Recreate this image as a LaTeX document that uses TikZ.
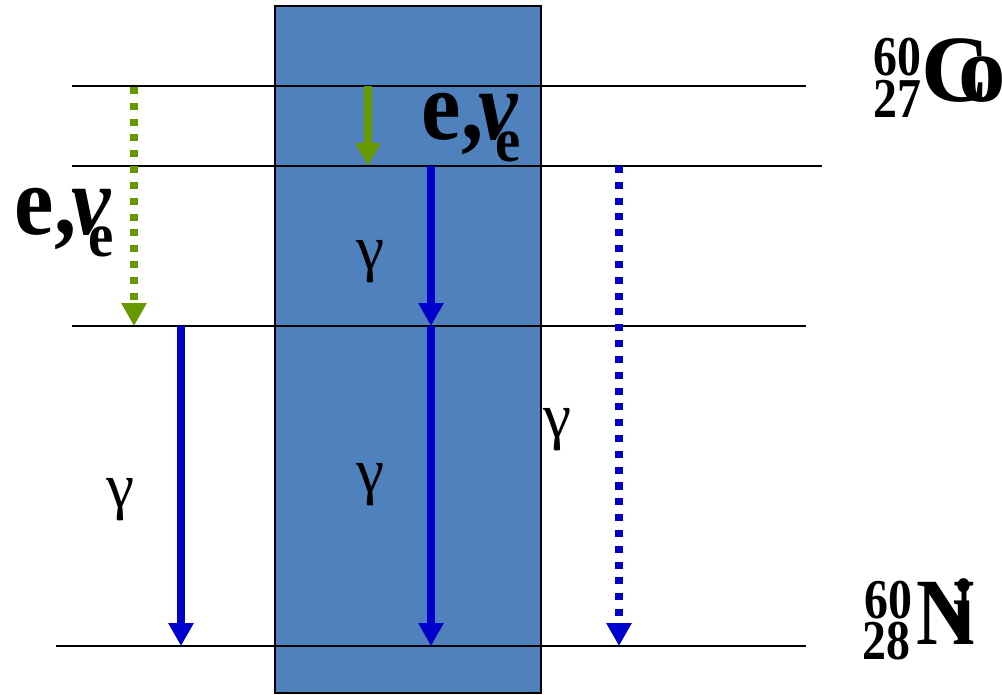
\documentclass[tikz,border=0pt]{standalone}
\usepackage{fontspec}
\setmainfont{Liberation Serif}
\usetikzlibrary{arrows.meta}

\definecolor{slab}{RGB}{79,129,189}
\definecolor{gamblue}{RGB}{0,0,204}
\definecolor{betagreen}{RGB}{102,153,0}

% label of the beta branch
\newcommand{\enulabel}{\scalebox{0.9}[1]{\bfseries e,\kern-1.5pt{\itshape ν}\kern-7pt\raisebox{-6pt}{\fontsize{18}{18}\selectfont e}}}

\begin{document}
\begin{tikzpicture}[x=0.01cm, y=-0.01cm,
    level/.style={line width=0.8pt, black},
    gammaarr/.style={gamblue, line width=2.3pt, -{Triangle[width=6.8pt,length=6.5pt]}},
    betaarr/.style={betagreen, line width=2.1pt, -{Triangle[width=6.8pt,length=6.5pt]}},
    dotline/.style={dash pattern=on 2pt off 2.5pt},
    glab/.style={inner sep=0pt, font=\fontsize{18}{18}\selectfont},
    enu/.style={inner sep=0pt, anchor=base west, font=\fontsize{28}{28}\selectfont},
    isonum/.style={inner sep=0pt, font=\fontsize{16}{16}\selectfont\bfseries},
    isoel/.style={inner sep=0pt, anchor=base west, font=\fontsize{27}{27}\selectfont\bfseries}]
    \useasboundingbox (0,0) rectangle (1002,695);

    % absorber slab
    \draw[fill=slab, line width=0.8pt] (275,6) rectangle (541,693);

    % levels
    \draw[level] (72,86) -- (806,86);
    \draw[level] (72,166) -- (822,166);
    \draw[level] (72,326) -- (806,326);
    \draw[level] (56,646) -- (806,646);

    % arrow end points
    \coordinate (b1s) at (134,87);
    \coordinate (b1e) at (134,326);
    \coordinate (b2s) at (368,86);
    \coordinate (b2e) at (368,166);
    \coordinate (g1s) at (181,326);
    \coordinate (g1e) at (181,646);
    \coordinate (g2s) at (431,166);
    \coordinate (g2e) at (431,326);
    \coordinate (g3s) at (431,326);
    \coordinate (g3e) at (431,646);
    \coordinate (g4s) at (619,166);
    \coordinate (g4e) at (619,646);

    % transitions
    \draw[betaarr, dotline] (b1s) -- (b1e);
    \draw[betaarr] (b2s) -- (b2e);
    \draw[gammaarr] (g1s) -- (g1e);
    \draw[gammaarr] (g2s) -- (g2e);
    \draw[gammaarr] (g3s) -- (g3e);
    \draw[gammaarr, dotline] (g4s) -- (g4e);

    % labels
    \node[glab] (gamA) at (370,262) {γ};
    \node[glab] (gamB) at (120,500) {γ};
    \node[glab] (gamC) at (370,485) {γ};
    \node[glab] (gamD) at (557,430) {γ};
    \node[enu] (enuA) at (421,140) {\enulabel};
    \node[enu] (enuB) at (14,235) {\enulabel};

    % nuclides
    \node[isonum] (coA) at (897,57) {\scalebox{0.85}[1]{60}};
    \node[isonum] (coZ) at (897,99) {\scalebox{0.85}[1]{27}};
    \node[isoel] (coEl) at (921,102) {C\kern-9pt o};
    \node[isonum] (niA) at (888,600) {\scalebox{0.85}[1]{60}};
    \node[isonum] (niZ) at (886,641) {\scalebox{0.85}[1]{28}};
    \node[isoel] (niEl) at (916,645) {\scalebox{0.85}[1]{N\kern-7.5pt i}};
\end{tikzpicture}
\end{document}
